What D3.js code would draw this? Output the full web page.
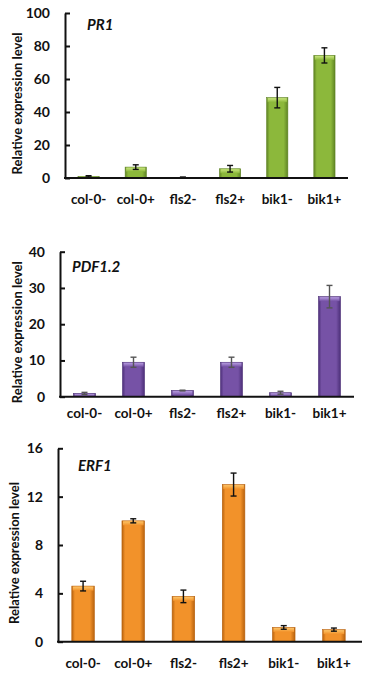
<!DOCTYPE html>
<html>
<head>
<meta charset="utf-8">
<script src="https://cdn.jsdelivr.net/npm/d3@7"></script>
<style>
  body { margin: 0; background: #fff; }
  svg text { font-family: Lato, "Open Sans", sans-serif; font-weight: bold; fill: #111; }
</style>
</head>
<body>
<div id="chart"></div>
<script>
// three expression panels
const categories = ["col-0-", "col-0+", "fls2-", "fls2+", "bik1-", "bik1+"];

const pr1Values = [1.0, 6.6, 0.4, 5.6, 48.7, 74.3];
const pr1Errors = [0.4, 1.4, 0.2, 2.0, 6.2, 4.6];
const pr1Ticks = [0, 20, 40, 60, 80, 100];

const pdfValues = [0.9, 9.5, 1.7, 9.5, 1.1, 27.6];
const pdfErrors = [0.3, 1.4, 0.1, 1.4, 0.4, 3.1];
const pdfTicks = [0, 10, 20, 30, 40];

const erfValues = [4.6, 10.0, 3.75, 13.0, 1.18, 1.0];
const erfErrors = [0.4, 0.17, 0.52, 0.95, 0.15, 0.13];
const erfTicks = [0, 4, 8, 12, 16];

const panels = [
    { name: "PR1", values: pr1Values, errors: pr1Errors, ticks: pr1Ticks,
      x0: 65, x1: 348, bandEnd: 348, yTop: 13, yBase: 178, titleX: 87, titleY: 30, labelY: 204, ytitleX: 18,
      base: "#8cb83b", light: "#c9e57e", dark: "#5f8424", errColor: "#111" },
    { name: "PDF1.2", values: pdfValues, errors: pdfErrors, ticks: pdfTicks,
      x0: 60, x1: 354, bandEnd: 354, yTop: 251.7, yBase: 396.7, titleX: 72, titleY: 272, labelY: 418, ytitleX: 18,
      base: "#7652a6", light: "#b69be0", dark: "#4c2f78", errColor: "#555" },
    { name: "ERF1", values: erfValues, errors: erfErrors, ticks: erfTicks,
      x0: 58, x1: 362, bandEnd: 359, yTop: 448.3, yBase: 641.7, titleX: 78, titleY: 471, labelY: 668, ytitleX: 15,
      base: "#f2922a", light: "#fcc468", dark: "#b8620e", errColor: "#111" }
];

const width = 367, height = 673;

const svg = d3.select("#chart").append("svg")
    .attr("width", width)
    .attr("height", height);

const defs = svg.append("defs");

panels.forEach((p, pi) => {
    // horizontal shading so bars look a bit round, like the original
    let grad = defs.append("linearGradient")
        .attr("id", "barGrad" + pi)
        .attr("x1", "0%").attr("x2", "100%").attr("y1", "0%").attr("y2", "0%");
    grad.append("stop").attr("offset", "0%").attr("stop-color", p.dark);
    grad.append("stop").attr("offset", "14%").attr("stop-color", p.base);
    grad.append("stop").attr("offset", "45%").attr("stop-color", p.base);
    grad.append("stop").attr("offset", "80%").attr("stop-color", p.base);
    grad.append("stop").attr("offset", "100%").attr("stop-color", p.dark);

    let cap = defs.append("linearGradient")
        .attr("id", "capGrad" + pi)
        .attr("x1", "0%").attr("x2", "0%").attr("y1", "0%").attr("y2", "100%");
    cap.append("stop").attr("offset", "0%").attr("stop-color", p.light);
    cap.append("stop").attr("offset", "100%").attr("stop-color", p.base);

    let x = d3.scaleBand()
        .domain(categories)
        .range([p.x0, p.bandEnd])
        .paddingInner(0.55)
        .paddingOuter(0.275);

    let y = d3.scaleLinear()
        .domain([0, d3.max(p.ticks)])
        .range([p.yBase, p.yTop]);

    let g = svg.append("g");

    // bars
    let bars = g.selectAll(".bar")
        .data(p.values)
        .enter()
        .append("g")
        .attr("class", "bar");

    bars.append("rect")
        .attr("x", (d, i) => x(categories[i]))
        .attr("width", x.bandwidth())
        .attr("y", d => y(d))
        .attr("height", d => y(0) - y(d))
        .attr("fill", "url(#barGrad" + pi + ")")
        .attr("stroke", p.dark)
        .attr("stroke-width", 0.6);

    bars.append("rect")
        .attr("x", (d, i) => x(categories[i]) + 1)
        .attr("width", x.bandwidth() - 2)
        .attr("y", d => y(d) + 0.5)
        .attr("height", d => Math.min(4, Math.max(0, y(0) - y(d) - 1)))
        .attr("fill", "url(#capGrad" + pi + ")");

    // error bars
    let errs = g.selectAll(".err")
        .data(p.values)
        .enter()
        .append("g")
        .attr("class", "err")
        .attr("stroke", p.errColor)
        .attr("stroke-width", 1.4);

    let cx = (i) => x(categories[i]) + x.bandwidth() / 2;

    errs.append("line")
        .attr("x1", (d, i) => cx(i)).attr("x2", (d, i) => cx(i))
        .attr("y1", (d, i) => y(d + p.errors[i]))
        .attr("y2", (d, i) => y(Math.max(0, d - p.errors[i])));
    errs.append("line")
        .attr("x1", (d, i) => cx(i) - 3).attr("x2", (d, i) => cx(i) + 3)
        .attr("y1", (d, i) => y(d + p.errors[i]))
        .attr("y2", (d, i) => y(d + p.errors[i]));
    errs.append("line")
        .attr("x1", (d, i) => cx(i) - 3).attr("x2", (d, i) => cx(i) + 3)
        .attr("y1", (d, i) => y(Math.max(0, d - p.errors[i])))
        .attr("y2", (d, i) => y(Math.max(0, d - p.errors[i])));

    // y axis, ticks pointing in
    let yAxis = d3.axisLeft(y)
        .tickValues(p.ticks)
        .tickSizeInner(-5)
        .tickSizeOuter(0)
        .tickPadding(15);

    let ya = g.append("g")
        .attr("transform", `translate(${p.x0},0)`)
        .call(yAxis);
    ya.select(".domain").attr("stroke", "#111").attr("stroke-width", 2);
    ya.selectAll(".tick line").attr("stroke", "#111").attr("stroke-width", 2);
    ya.selectAll(".tick text")
        .style("font-size", "14px")
        .attr("fill", "#111");

    // x axis line, no ticks
    g.append("line")
        .attr("x1", p.x0 - 1).attr("x2", p.x1)
        .attr("y1", y(0)).attr("y2", y(0))
        .attr("stroke", "#111")
        .attr("stroke-width", 2);

    g.selectAll(".xlab")
        .data(categories)
        .enter()
        .append("text")
        .attr("class", "xlab")
        .attr("x", d => x(d) + x.bandwidth() / 2)
        .attr("y", p.labelY)
        .attr("text-anchor", "middle")
        .style("font-size", "13.5px")
        .text(d => d);

    // gene name
    g.append("text")
        .attr("x", p.titleX)
        .attr("y", p.titleY)
        .style("font-size", "15px")
        .style("font-style", "italic")
        .text(p.name);

    g.append("text")
        .attr("transform", "rotate(-90)")
        .attr("x", -(p.yBase + p.yTop) / 2 - 8)
        .attr("y", p.ytitleX + 4)
        .attr("text-anchor", "middle")
        .style("font-size", "13px")
        .text("Relative expression level");
});
</script>
</body>
</html>
